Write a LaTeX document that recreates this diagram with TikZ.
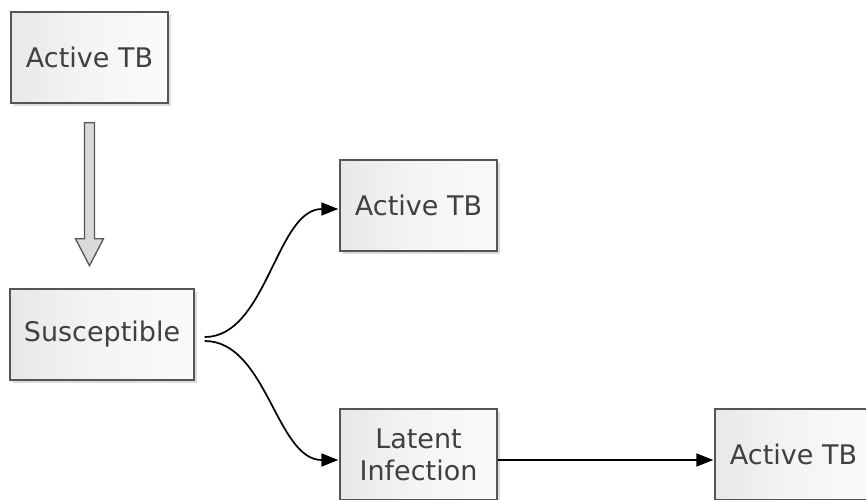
\documentclass[tikz,border=0pt]{standalone}
\usepackage{fontspec}
\setmainfont{DejaVu Sans}
\usetikzlibrary{arrows.meta,shadows,calc}
\definecolor{boxline}{HTML}{555555}
\definecolor{boxtext}{HTML}{404040}
\definecolor{arrowfill}{HTML}{D9D9D9}
\tikzset{
  statebox/.style={draw=boxline, line width=1.4pt, minimum width=157pt, minimum height=91pt,
    inner sep=0pt, align=center, text=boxtext,
    font=\fontsize{27}{32}\selectfont,
    left color=black!9, right color=black!2, middle color=black!4,
    drop shadow={shadow xshift=3pt, shadow yshift=-3pt, fill=black!14, opacity=1}},
  link/.style={line width=1.7pt, -{Triangle[length=17pt,width=13pt]}},
}
\begin{document}
\begin{tikzpicture}[x=1pt,y=-1pt]
  \useasboundingbox (0,0) rectangle (866,499);
  \clip (0,0) rectangle (866,499);
  \fill[white] (0,0) rectangle (866,499);

  \node[statebox] (src) at (89.5,57.5) {Active TB};
  \node[statebox, minimum width=184pt] (sus) at (102,334.5) {Susceptible};
  \node[statebox] (act) at (418.5,205.5) {Active TB};
  \node[statebox] (lat) at (418.5,454.5) {Latent\\Infection};
  \node[statebox] (late) at (793.5,454.5) {Active TB};

  % block arrow from the source case down to the susceptible box
  \coordinate (s1) at ([yshift=-19pt]src.south);
  \filldraw[fill=arrowfill, draw=boxline, line width=1.3pt, line join=miter]
    ([xshift=-5pt]s1) -- ([xshift=5pt]s1) -- ++(0,116) -- ++(9,0)
    -- ($(s1)+(0,143)$) -- ++(-14,-27) -- ++(9,0) -- cycle;

  % outcomes of infection: a brace-like fork off the susceptible box
  \coordinate (forkup) at ([xshift=10pt, yshift=-2.5pt]sus.east);
  \coordinate (forkdn) at ([xshift=10pt, yshift=-6.5pt]sus.east);
  \draw[link] (forkup) .. controls +(62,0) and +(-62,0) .. ([xshift=-1pt, yshift=-3.5pt]act.west);
  \draw[link] (forkdn) .. controls +(62,0) and +(-62,0) .. ([xshift=-1pt, yshift=-5.5pt]lat.west);
  \draw[link] ([yshift=-5.5pt]lat.east) -- ([xshift=-1pt, yshift=-5.5pt]late.west);
\end{tikzpicture}
\end{document}
